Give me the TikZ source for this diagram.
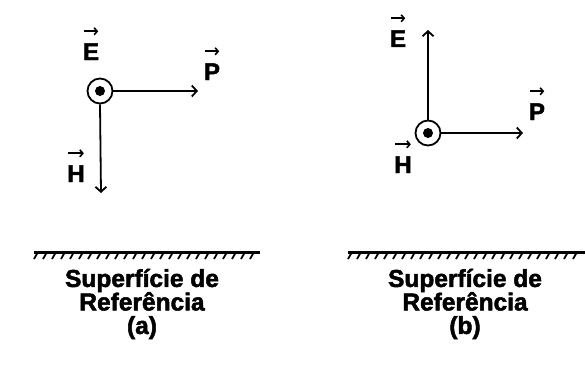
\documentclass[tikz,border=0pt]{standalone}
\usepackage{fontspec}
\setmainfont{Liberation Sans}[BoldFeatures={FakeBold=2}]
\usetikzlibrary{arrows.meta}

\begin{document}
\begin{tikzpicture}[x=1pt, y=-1pt,
  vecl/.style    = {font=\bfseries\fontsize{24}{26}\selectfont, inner sep=0pt, anchor=base},
  overarrow/.style = {-{Straight Barb[length=3pt, width=7pt, line width=1.6pt]}, line width=2pt},
  ring/.style    = {circle, draw, line width=1.8pt, minimum size=25pt, inner sep=0pt},
  dot/.style     = {circle, fill, minimum size=10pt, inner sep=0pt},
  field/.style   = {-{Straight Barb[length=5pt, width=11pt, line width=1.8pt]}, line width=1.8pt},
  caption/.style = {font=\bfseries\fontsize{24.5}{23.5}\selectfont, align=center, inner sep=0pt},
  ground/.style  = {line width=3pt},
  hatch/.style   = {line width=1.8pt}
]
\useasboundingbox (0,0) rectangle (585,369);

%% (a) E out of the page, H down
\node[ring] (ringa) at (100,91) {};
\node[dot]  (dota)  at (ringa) {};
\coordinate (Pend) at (198,91);
\coordinate (Hend) at (101,193);
\draw[field] (ringa.east) -- (Pend);
\draw[field] (ringa.south) -- (Hend);
\node[vecl] (Ea) at (91,60)  {E};
\node[vecl] (Pa) at (212,80) {P};
\node[vecl] (Ha) at (76,182) {H};

%% (b) E up, H out of the page
\node[ring] (ringb) at (428,133) {};
\node[dot]  (dotb)  at (ringb) {};
\coordinate (Eend)  at (428,30);
\coordinate (Pendb) at (523,133);
\draw[field] (ringb.north) -- (Eend);
\draw[field] (ringb.east) -- (Pendb);
\node[vecl] (Eb) at (398,47)  {E};
\node[vecl] (Pb) at (537,120) {P};
\node[vecl] (Hb) at (403,173) {H};

%% vector marks over the letters
\foreach \v in {Ea,Pa,Ha,Eb,Pb,Hb}
  \draw[overarrow] ([xshift=1pt, yshift=12pt]\v.north west) -- ([xshift=-1pt, yshift=12pt]\v.north east);

%% reference surfaces
\draw[ground] (34,252) -- (260,252);
\foreach \x in {38,47,...,258}
  \draw[hatch] (\x,252) -- (\x-4,259);
\draw[ground] (348,252) -- (585,252);
\foreach \x in {352,361,...,585}
  \draw[hatch] (\x,252) -- (\x-4,259);

\node[caption] (capa) at (142,304) {Superfície de\\Referência\\(a)};
\node[caption] (capb) at (465,304) {Superfície de\\Referência\\(b)};
\end{tikzpicture}
\end{document}
